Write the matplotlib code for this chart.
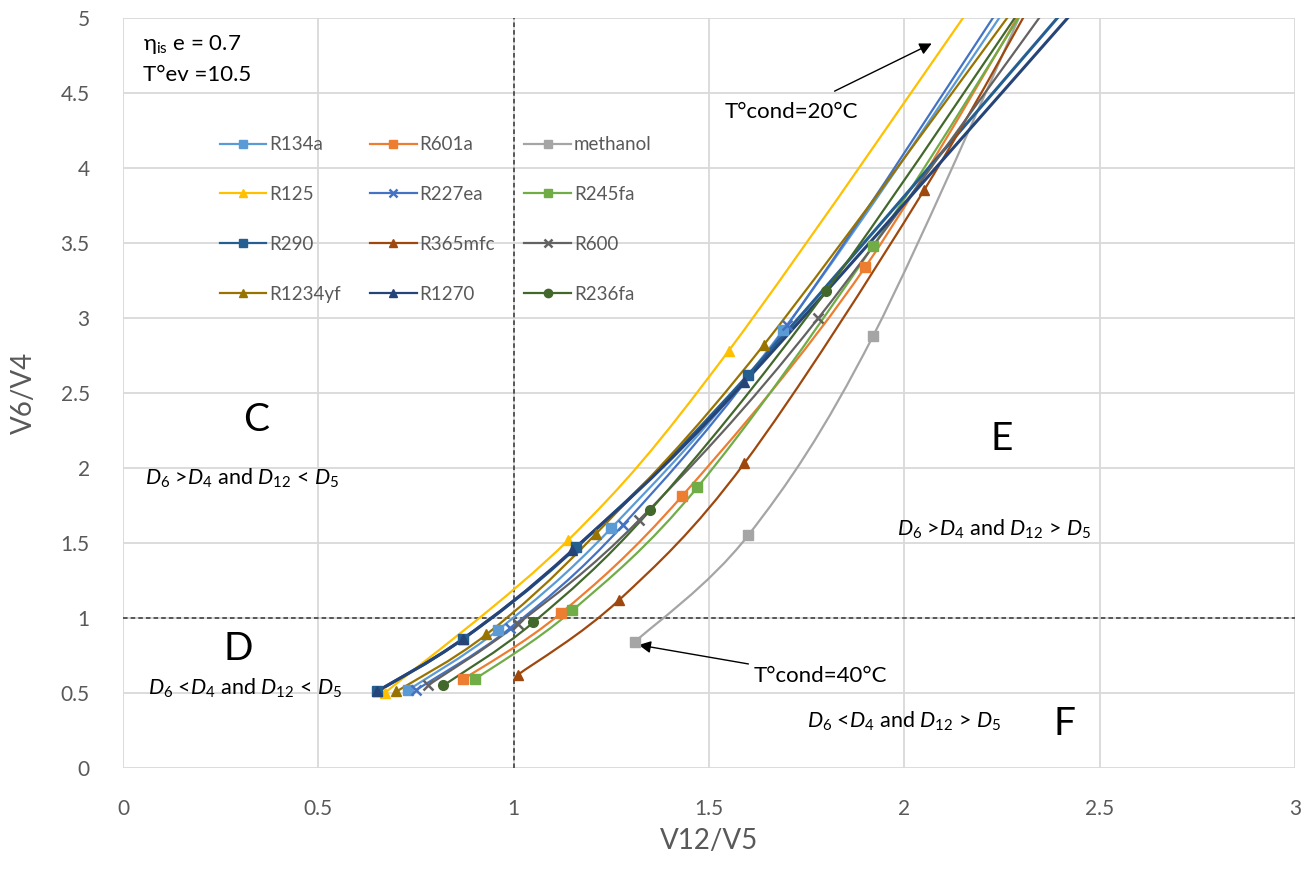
import numpy as np
import matplotlib.pyplot as plt
from matplotlib.path import Path
from matplotlib.patches import PathPatch
from matplotlib.lines import Line2D

plt.rcParams['font.family'] = ['Lato', 'DejaVu Sans']
plt.rcParams['mathtext.fontset'] = 'custom'
plt.rcParams['mathtext.rm'] = 'Lato'
plt.rcParams['mathtext.it'] = 'Lato:italic'

# fluids: name, colour, marker, V12/V5 values, V6/V4 values (last point lies above the axis)
names = ['R134a', 'R601a', 'methanol', 'R125', 'R227ea', 'R245fa',
         'R290', 'R365mfc', 'R600', 'R1234yf', 'R1270', 'R236fa']
colors = ['#5B9BD5', '#ED7D31', '#A5A5A5', '#FFC000', '#4472C4', '#70AD47',
          '#255E91', '#9E480E', '#636363', '#997300', '#264478', '#43682B']
markers = ['s', 's', 's', '^', 'x', 's', 's', '^', 'x', '^', '^', 'o']

x_vals = {
    'R134a':    [0.73, 0.96, 1.25, 1.69, 2.36],
    'R601a':    [0.87, 1.12, 1.43, 1.90, 2.39],
    'methanol': [1.31, 1.60, 1.92, 2.37],
    'R125':     [0.67, 1.14, 1.55, 2.27],
    'R227ea':   [0.75, 0.99, 1.28, 1.70, 2.34],
    'R245fa':   [0.90, 1.15, 1.47, 1.92, 2.40],
    'R290':     [0.65, 0.87, 1.16, 1.60, 2.54],
    'R365mfc':  [1.01, 1.27, 1.59, 2.05, 2.40],
    'R600':     [0.78, 1.01, 1.32, 1.78, 2.47],
    'R1234yf':  [0.70, 0.93, 1.21, 1.64, 2.39],
    'R1270':    [0.65, 0.87, 1.15, 1.59, 2.57],
    'R236fa':   [0.82, 1.05, 1.35, 1.80, 2.40],
}
y_vals = {
    'R134a':    [0.52, 0.92, 1.60, 2.92, 5.45],
    'R601a':    [0.59, 1.03, 1.81, 3.34, 5.45],
    'methanol': [0.84, 1.55, 2.88, 5.45],
    'R125':     [0.50, 1.52, 2.78, 5.45],
    'R227ea':   [0.52, 0.93, 1.62, 2.95, 5.45],
    'R245fa':   [0.59, 1.05, 1.87, 3.48, 5.45],
    'R290':     [0.51, 0.86, 1.47, 2.62, 5.45],
    'R365mfc':  [0.62, 1.12, 2.03, 3.85, 5.45],
    'R600':     [0.55, 0.96, 1.65, 3.00, 5.45],
    'R1234yf':  [0.51, 0.89, 1.56, 2.82, 5.45],
    'R1270':    [0.51, 0.86, 1.45, 2.57, 5.45],
    'R236fa':   [0.55, 0.97, 1.72, 3.18, 5.45],
}


def smooth_path(xs, ys):
    # Excel-style smoothed line: cubic Bezier through the points
    p = np.column_stack([xs, ys])
    n = len(p)
    verts = [p[0]]
    codes = [Path.MOVETO]
    for i in range(n - 1):
        p_prev = p[i - 1] if i > 0 else p[i]
        p_next2 = p[i + 2] if i + 2 < n else p[i + 1]
        c1 = p[i] + (p[i + 1] - p_prev) / 6
        c2 = p[i + 1] - (p_next2 - p[i]) / 6
        verts += [c1, c2, p[i + 1]]
        codes += [Path.CURVE4] * 3
    return Path(verts, codes)


fig = plt.figure(figsize=(13.13, 8.82), dpi=100)
ax = fig.add_axes([0.0937, 0.1293, 0.8926, 0.8503])

for name, c, m in zip(names, colors, markers):
    xs, ys = x_vals[name], y_vals[name]
    lw = 2.2 if name in ('R290', 'R1270') else 1.6
    ax.add_patch(PathPatch(smooth_path(xs, ys), fill=False, edgecolor=c, lw=lw, zorder=3))
    ax.plot(xs, ys, ls='none', marker=m, color=c, ms=7, mew=1.8 if m == 'x' else 1, zorder=4)

ax.set_xlim(0, 3)
ax.set_ylim(0, 5)
ax.set_xticks(np.arange(0, 3.01, 0.5))
ax.set_yticks(np.arange(0, 5.01, 0.5))
ax.set_xticklabels(['0', '0.5', '1', '1.5', '2', '2.5', '3'])
ax.set_yticklabels(['0', '0.5', '1', '1.5', '2', '2.5', '3', '3.5', '4', '4.5', '5'])
ax.grid(True, color='#D9D9D9', lw=1.3)
ax.set_axisbelow(True)
for s in ax.spines.values():
    s.set_visible(False)
ax.tick_params(axis='x', length=0, labelsize=15, colors='#595959', pad=22)
ax.tick_params(axis='y', length=0, labelsize=15, colors='#595959', pad=24)
ax.set_xlabel('V12/V5', fontsize=20, color='#595959', labelpad=7)
ax.set_ylabel('V6/V4', fontsize=20, color='#595959', labelpad=17)

ax.axvline(1, color='#333333', ls=(0, (3, 2)), lw=1.1, zorder=2)
ax.axhline(1, color='#333333', ls=(0, (3, 2)), lw=1.1, zorder=2)

# legend in row order of the original
order = [0, 3, 6, 9, 1, 4, 7, 10, 2, 5, 8, 11]
handles = [Line2D([], [], color=colors[i], marker=markers[i], lw=1.6, ms=6,
                  mew=1.8 if markers[i] == 'x' else 1) for i in order]
leg = ax.legend(handles, [names[i] for i in order], ncol=3, loc='upper left',
                bbox_to_anchor=(0.068, 0.865), frameon=False, fontsize=13.5,
                handlelength=2.5, handletextpad=0.15, labelspacing=1.75,
                columnspacing=1.55, numpoints=1)
for t in leg.get_texts():
    t.set_color('#595959')

ax.text(0.05, 4.82, 'η$_{\\rm is}$ e = 0.7', fontsize=16, color='black', va='center')
ax.text(0.05, 4.62, 'T°ev =10.5', fontsize=16, color='black', va='center')

ax.annotate('T°cond=20°C', xy=(2.07, 4.83), xytext=(1.71, 4.37), fontsize=16,
            ha='center', va='center',
            arrowprops=dict(arrowstyle='-|>', color='black', lw=1, shrinkA=14, shrinkB=0,
                            mutation_scale=18))
ax.annotate('T°cond=40°C', xy=(1.32, 0.82), xytext=(1.615, 0.61), fontsize=16,
            ha='left', va='center',
            arrowprops=dict(arrowstyle='-|>', color='black', lw=1, shrinkA=2, shrinkB=0,
                            mutation_scale=18))

big = dict(fontsize=28, color='black', ha='center', va='center')
ax.text(0.34, 2.32, 'C', **big)
ax.text(0.295, 0.79, 'D', **big)
ax.text(2.25, 2.19, 'E', **big)
ax.text(2.41, 0.29, 'F', **big)

reg = dict(fontsize=15.5, color='black', va='center', ha='left')
ax.text(0.055, 1.93, r'$D_6$ >$D_4$ and $D_{12}$ < $D_5$', **reg)
ax.text(0.065, 0.53, r'$D_6$ <$D_4$ and $D_{12}$ < $D_5$', **reg)
ax.text(1.98, 1.59, r'$D_6$ >$D_4$ and $D_{12}$ > $D_5$', **reg)
ax.text(1.75, 0.31, r'$D_6$ <$D_4$ and $D_{12}$ > $D_5$', **reg)

fig.savefig('out.png', dpi=100)
